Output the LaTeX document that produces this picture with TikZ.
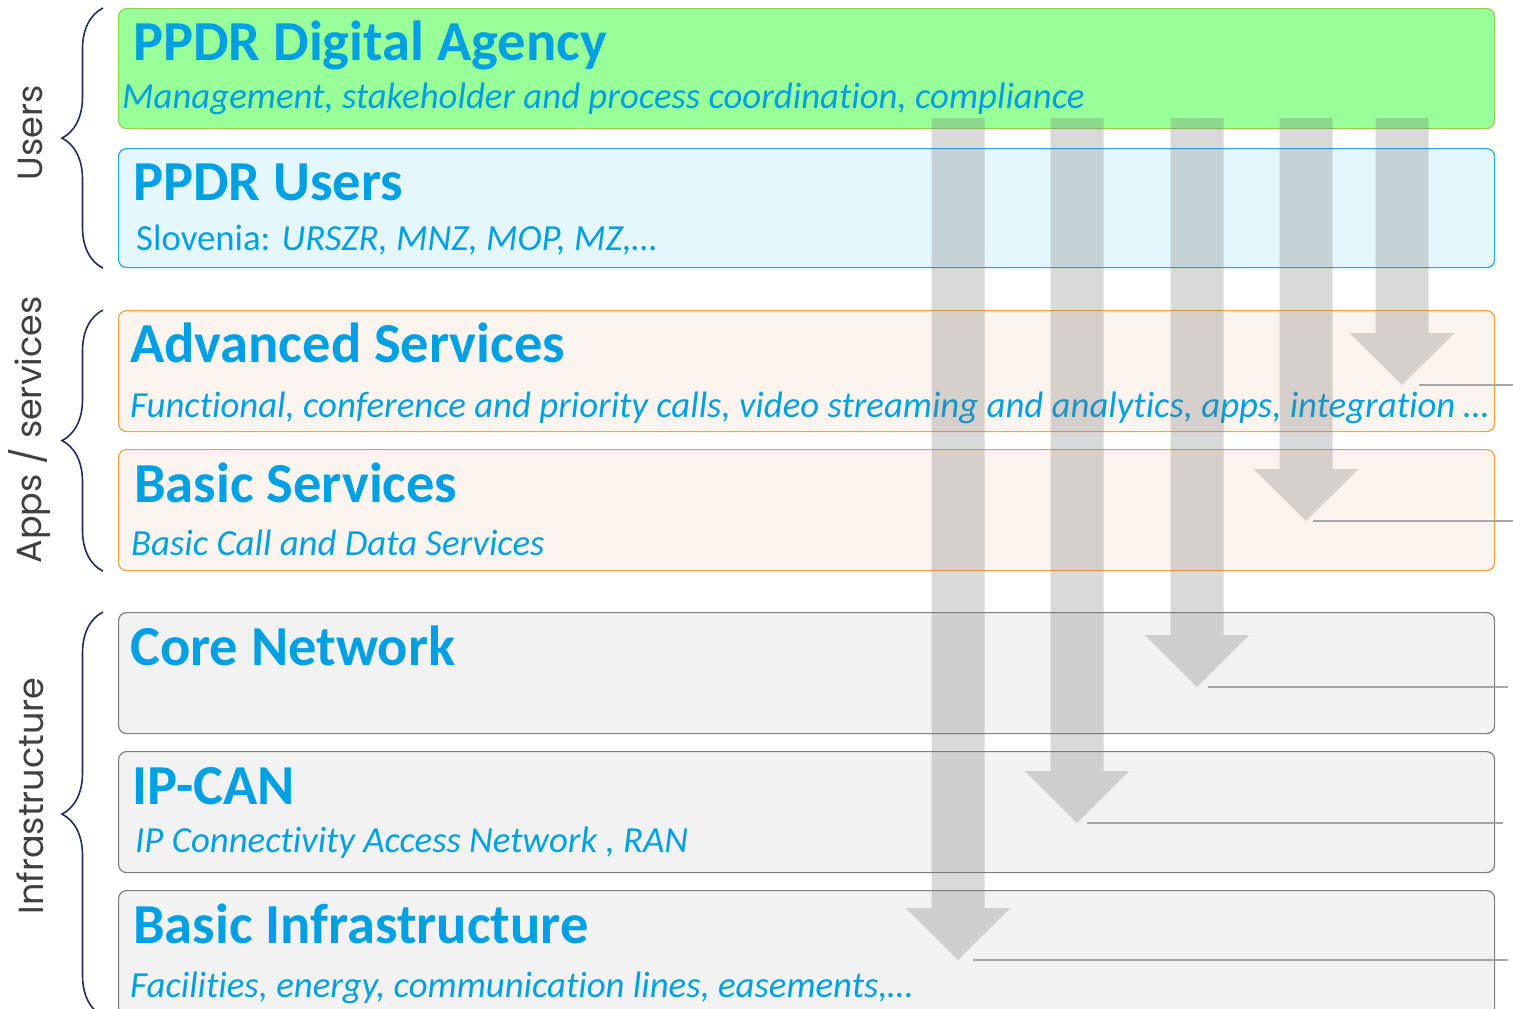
\documentclass[tikz,border=0pt]{standalone}
\usepackage{fontspec}
\setmainfont{Carlito}[Ligatures=NoCommon]
\newfontfamily\sidefont{Poppins}
\usetikzlibrary{decorations.pathreplacing}
\definecolor{ppdrblue}{RGB}{0,160,226}
\definecolor{agencyfill}{RGB}{153,255,153}
\definecolor{agencyline}{RGB}{146,208,80}
\definecolor{usersfill}{RGB}{229,247,253}
\definecolor{usersline}{RGB}{27,170,226}
\definecolor{svcfill}{RGB}{251,243,238}
\definecolor{svcline}{RGB}{244,160,64}
\definecolor{infrafill}{RGB}{242,242,242}
\definecolor{infraline}{RGB}{127,127,127}
\definecolor{flowgray}{RGB}{116,116,116}
\definecolor{linegray}{RGB}{166,166,166}
\definecolor{bracenavy}{RGB}{31,46,92}
\definecolor{sidegray}{RGB}{64,64,64}
\begin{document}
\begin{tikzpicture}[x=1pt, y=-1pt,
   layer/.style={draw, rounded corners=8pt, line width=1.2pt, minimum width=1376pt, anchor=north west, inner sep=0pt},
   title/.style={anchor=base west, inner sep=0pt, text=ppdrblue, font=\fontsize{56.5}{60}\selectfont\bfseries},
   sub/.style={anchor=base west, inner sep=0pt, text=ppdrblue, font=\fontsize{36.8}{40}\selectfont\itshape},
   side/.style={rotate=90, inner sep=0pt, text=sidegray, font=\sidefont\fontsize{35}{40}\selectfont},
   group/.style={decorate, decoration={brace, amplitude=41pt}, draw=bracenavy, line width=1.6pt},
   flow/.style={fill=flowgray, fill opacity=0.275},
   marker/.style={draw=linegray, line width=2pt}]
   \clip (0,0) rectangle (1513,1009);
   % layers
   \node[layer, fill=agencyfill, draw=agencyline, minimum height=120pt] (agency) at (118,8) {};
   \node[layer, fill=usersfill, draw=usersline, minimum height=119pt] (users) at (118,148) {};
   \node[layer, fill=svcfill, draw=svcline, minimum height=121pt] (adv) at (118,310) {};
   \node[layer, fill=svcfill, draw=svcline, minimum height=121pt] (basic) at (118,449) {};
   \node[layer, fill=infrafill, draw=infraline, minimum height=121pt] (core) at (118,612) {};
   \node[layer, fill=infrafill, draw=infraline, minimum height=121pt] (ipcan) at (118,751) {};
   \node[layer, fill=infrafill, draw=infraline, minimum height=125pt] (infra) at (118,890) {};
   % texts
   \node[title] (agencyT) at (133,60) {PPDR Digital Agency};
   \node[sub] (agencyS) at (122,108) {Management, stakeholder and process coordination, compliance};
   \node[title] (usersT) at (133,200) {PPDR Users};
   \node[sub] (usersS) at (136,250) {\upshape Slovenia: \itshape URSZR, MNZ, MOP, MZ,…};
   \node[title] (advT) at (130,362) {Advanced Services};
   \node[sub] (advS) at (130,417) {Functional, conference and priority calls, video streaming and analytics, apps, integration …};
   \node[title] (basicT) at (134,502) {Basic Services};
   \node[sub] (basicS) at (131,555) {Basic Call and Data Services};
   \node[title] (coreT) at (130,665) {Core Network};
   \node[title] (ipcanT) at (132,804) {IP-CAN};
   \node[sub] (ipcanS) at (135,852) {IP Connectivity Access Network , RAN};
   \node[title] (infraT) at (133,943) {Basic Infrastructure};
   \node[sub] (infraS) at (130,997) {Facilities, energy, communication lines, easements,…};
   % braces
   \draw[group] ([xshift=-15pt]users.south west) -- ([xshift=-15pt]agency.north west);
   \draw[group] ([xshift=-15pt]basic.south west) -- ([xshift=-15pt]adv.north west);
   \draw[group] ([xshift=-15pt]infra.south west) -- ([xshift=-15pt]core.north west);
   \node[side] (usersL) at (30,133) {Users};
   \node[side] (appsL) at (30,430) {Apps / services};
   \node[side] (infraL) at (30,796) {Infrastructure};
   % arrows
   \foreach \n/\x/\t/\s/\e in {1/958/960/973/1508, 2/1077/823/1087/1503, 3/1197/687/1208/1508, 4/1306/521/1313/1513, 5/1402/385/1419/1513} {
      \fill[flow] (\x-26.5,118) -- (\x-26.5,\t-52) -- (\x-52.5,\t-52) -- (\x,\t) -- (\x+52.5,\t-52) -- (\x+26.5,\t-52) -- (\x+26.5,118) -- cycle;
      \coordinate (mark\n) at (\s,\t);
      \coordinate (edge\n) at (\e,\t);
      \draw[marker] (mark\n) -- (edge\n);
   }
\end{tikzpicture}
\end{document}
